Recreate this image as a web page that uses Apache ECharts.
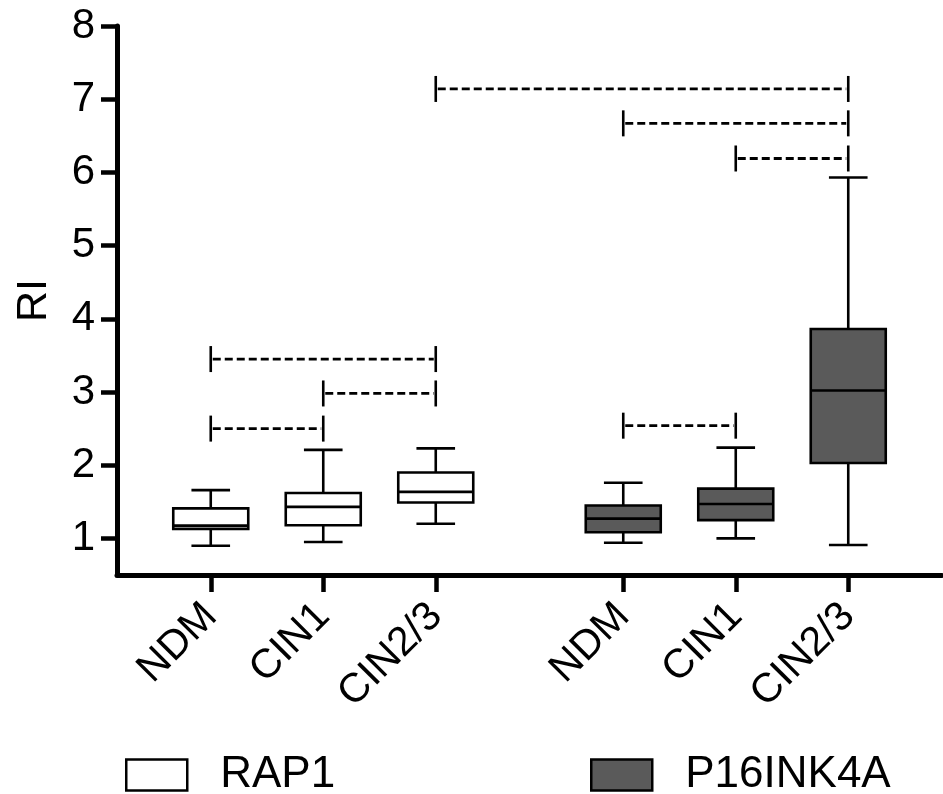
<!DOCTYPE html>
<html>
<head>
<meta charset="utf-8">
<script src="https://cdn.jsdelivr.net/npm/echarts@6/dist/echarts.min.js"></script>
<style>
html,body{margin:0;padding:0;background:#fff;}
#chart{width:943px;height:794px;}
</style>
</head>
<body>
<div id="chart"></div>
<script>
// ---- data ----
var categories = ['NDM', 'CIN1', 'CIN2/3'];
var seriesNames = ['RAP1', 'P16INK4A'];
// [min, Q1, median, Q3, max]
var rap1Values = [
  [0.90, 1.13, 1.175, 1.41, 1.66],
  [0.95, 1.18, 1.43, 1.62, 2.21],
  [1.20, 1.49, 1.635, 1.90, 2.23]
];
var p16Values = [
  [0.94, 1.085, 1.27, 1.45, 1.76],
  [1.00, 1.25, 1.47, 1.68, 2.24],
  [0.91, 2.03, 3.02, 3.86, 5.93]
];
// significance brackets: [from box index, to box index, RI level] (box index 0..5 across both groups)
var brackets = [
  [0, 2, 3.45],
  [1, 2, 2.98],
  [0, 1, 2.50],
  [3, 4, 2.54],
  [2, 5, 7.14],
  [3, 5, 6.67],
  [4, 5, 6.19]
];
var yTicks = [1, 2, 3, 4, 5, 6, 7, 8];

// ---- layout helpers ----
var FONT = '"Liberation Sans", Arial, sans-serif';
function boxPos(k) { // k: 0..5
  var g = Math.floor(k / 3), i = k % 3;
  return g * 11 + i * 3;
}
var xTickVals = [0, 1, 2, 3, 4, 5].map(boxPos);
function labelFor(v) {
  var k = xTickVals.indexOf(v);
  return k < 0 ? '' : categories[k % 3];
}
function toBoxData(vals, g) {
  return vals.map(function (d, i) { return [boxPos(g * 3 + i)].concat(d); });
}
var fills = ['#ffffff', '#5a5a5a'];

function renderBox(params, api) {
  var x = api.value(0);
  var mn = api.coord([x, api.value(1)]);
  var q1 = api.coord([x, api.value(2)]);
  var md = api.coord([x, api.value(3)]);
  var q3 = api.coord([x, api.value(4)]);
  var mx = api.coord([x, api.value(5)]);
  var bw = api.size([2, 0])[0];
  var cw = api.size([1.03, 0])[0];
  var cx = md[0];
  var ls = { stroke: '#000', lineWidth: 2.6 };
  var fill = fills[params.seriesIndex];
  return {
    type: 'group',
    children: [
      { type: 'line', shape: { x1: cx, y1: mx[1], x2: cx, y2: q3[1] }, style: ls },
      { type: 'line', shape: { x1: cx, y1: q1[1], x2: cx, y2: mn[1] }, style: ls },
      { type: 'line', shape: { x1: cx - cw / 2, y1: mx[1], x2: cx + cw / 2, y2: mx[1] }, style: ls },
      { type: 'line', shape: { x1: cx - cw / 2, y1: mn[1], x2: cx + cw / 2, y2: mn[1] }, style: ls },
      { type: 'rect', shape: { x: cx - bw / 2, y: q3[1], width: bw, height: q1[1] - q3[1] },
        style: { fill: fill, stroke: '#000', lineWidth: 2.6 } },
      { type: 'line', shape: { x1: cx - bw / 2, y1: md[1], x2: cx + bw / 2, y2: md[1] }, style: ls }
    ]
  };
}

function renderBracket(params, api) {
  var a = api.coord([api.value(0), api.value(2)]);
  var b = api.coord([api.value(1), api.value(2)]);
  var h = 13;
  var ls = { stroke: '#000', lineWidth: 2.6 };
  return {
    type: 'group',
    children: [
      { type: 'line', shape: { x1: a[0] + 2, y1: a[1], x2: b[0] - 2, y2: b[1] },
        style: { stroke: '#000', lineWidth: 2.8, lineDash: [8, 4] } },
      { type: 'line', shape: { x1: a[0], y1: a[1] - h, x2: a[0], y2: a[1] + h }, style: ls },
      { type: 'line', shape: { x1: b[0], y1: b[1] - h, x2: b[0], y2: b[1] + h }, style: ls }
    ]
  };
}

var bracketData = brackets.map(function (b) { return [boxPos(b[0]), boxPos(b[1]), b[2]]; });

var chart = echarts.init(document.getElementById('chart'), null, { renderer: 'canvas' });
chart.setOption({
  animation: false,
  backgroundColor: '#fff',
  textStyle: { fontFamily: FONT },
  grid: { left: 117, right: 1, top: 26, bottom: 219, containLabel: false },
  xAxis: {
    type: 'value',
    min: -2.5, max: 19.5,
    splitLine: { show: false },
    axisLine: { show: true, onZero: false, lineStyle: { color: '#000', width: 5 } },
    axisTick: { show: true, customValues: xTickVals, length: 17, lineStyle: { color: '#000', width: 4.5 } },
    axisLabel: {
      customValues: xTickVals, rotate: 45, margin: 35,
      fontSize: 41, color: '#000', fontFamily: FONT,
      formatter: function (v) { return labelFor(v); }
    }
  },
  yAxis: {
    type: 'value',
    min: 0.5, max: 8,
    name: 'RI', nameLocation: 'middle', nameGap: 61, nameRotate: 90,
    nameTextStyle: { fontSize: 43, color: '#000', fontFamily: FONT },
    splitLine: { show: false },
    axisLine: { show: true, onZero: false, lineStyle: { color: '#000', width: 5 } },
    axisTick: { show: true, customValues: yTicks, length: 16, lineStyle: { color: '#000', width: 4.5 } },
    axisLabel: { customValues: yTicks, margin: 22, fontSize: 42, color: '#000', fontFamily: FONT }
  },
  legend: [
    {
      left: 125, top: 753, padding: 0, itemWidth: 61, itemHeight: 31,
      selectedMode: false,
      data: [{ name: seriesNames[0], icon: 'rect', itemStyle: { color: fills[0], borderColor: '#000', borderWidth: 2.5 } }],
      textStyle: { fontSize: 44, color: '#000', fontFamily: FONT, padding: [0, 0, 0, 28] }
    },
    {
      left: 590, top: 753, padding: 0, itemWidth: 61, itemHeight: 31,
      selectedMode: false,
      data: [{ name: seriesNames[1], icon: 'rect', itemStyle: { color: fills[1], borderColor: '#000', borderWidth: 2.5 } }],
      textStyle: { fontSize: 44, color: '#000', fontFamily: FONT, padding: [0, 0, 0, 28] }
    }
  ],
  series: [
    {
      name: seriesNames[0], type: 'custom', renderItem: renderBox,
      itemStyle: { color: fills[0] },
      encode: { x: 0, y: [1, 2, 3, 4, 5] },
      data: toBoxData(rap1Values, 0), z: 3
    },
    {
      name: seriesNames[1], type: 'custom', renderItem: renderBox,
      itemStyle: { color: fills[1] },
      encode: { x: 0, y: [1, 2, 3, 4, 5] },
      data: toBoxData(p16Values, 1), z: 3
    },
    {
      name: 'brackets', type: 'custom', renderItem: renderBracket,
      encode: { x: [0, 1], y: 2 },
      data: bracketData, z: 2, silent: true
    }
  ]
});
</script>
</body>
</html>
